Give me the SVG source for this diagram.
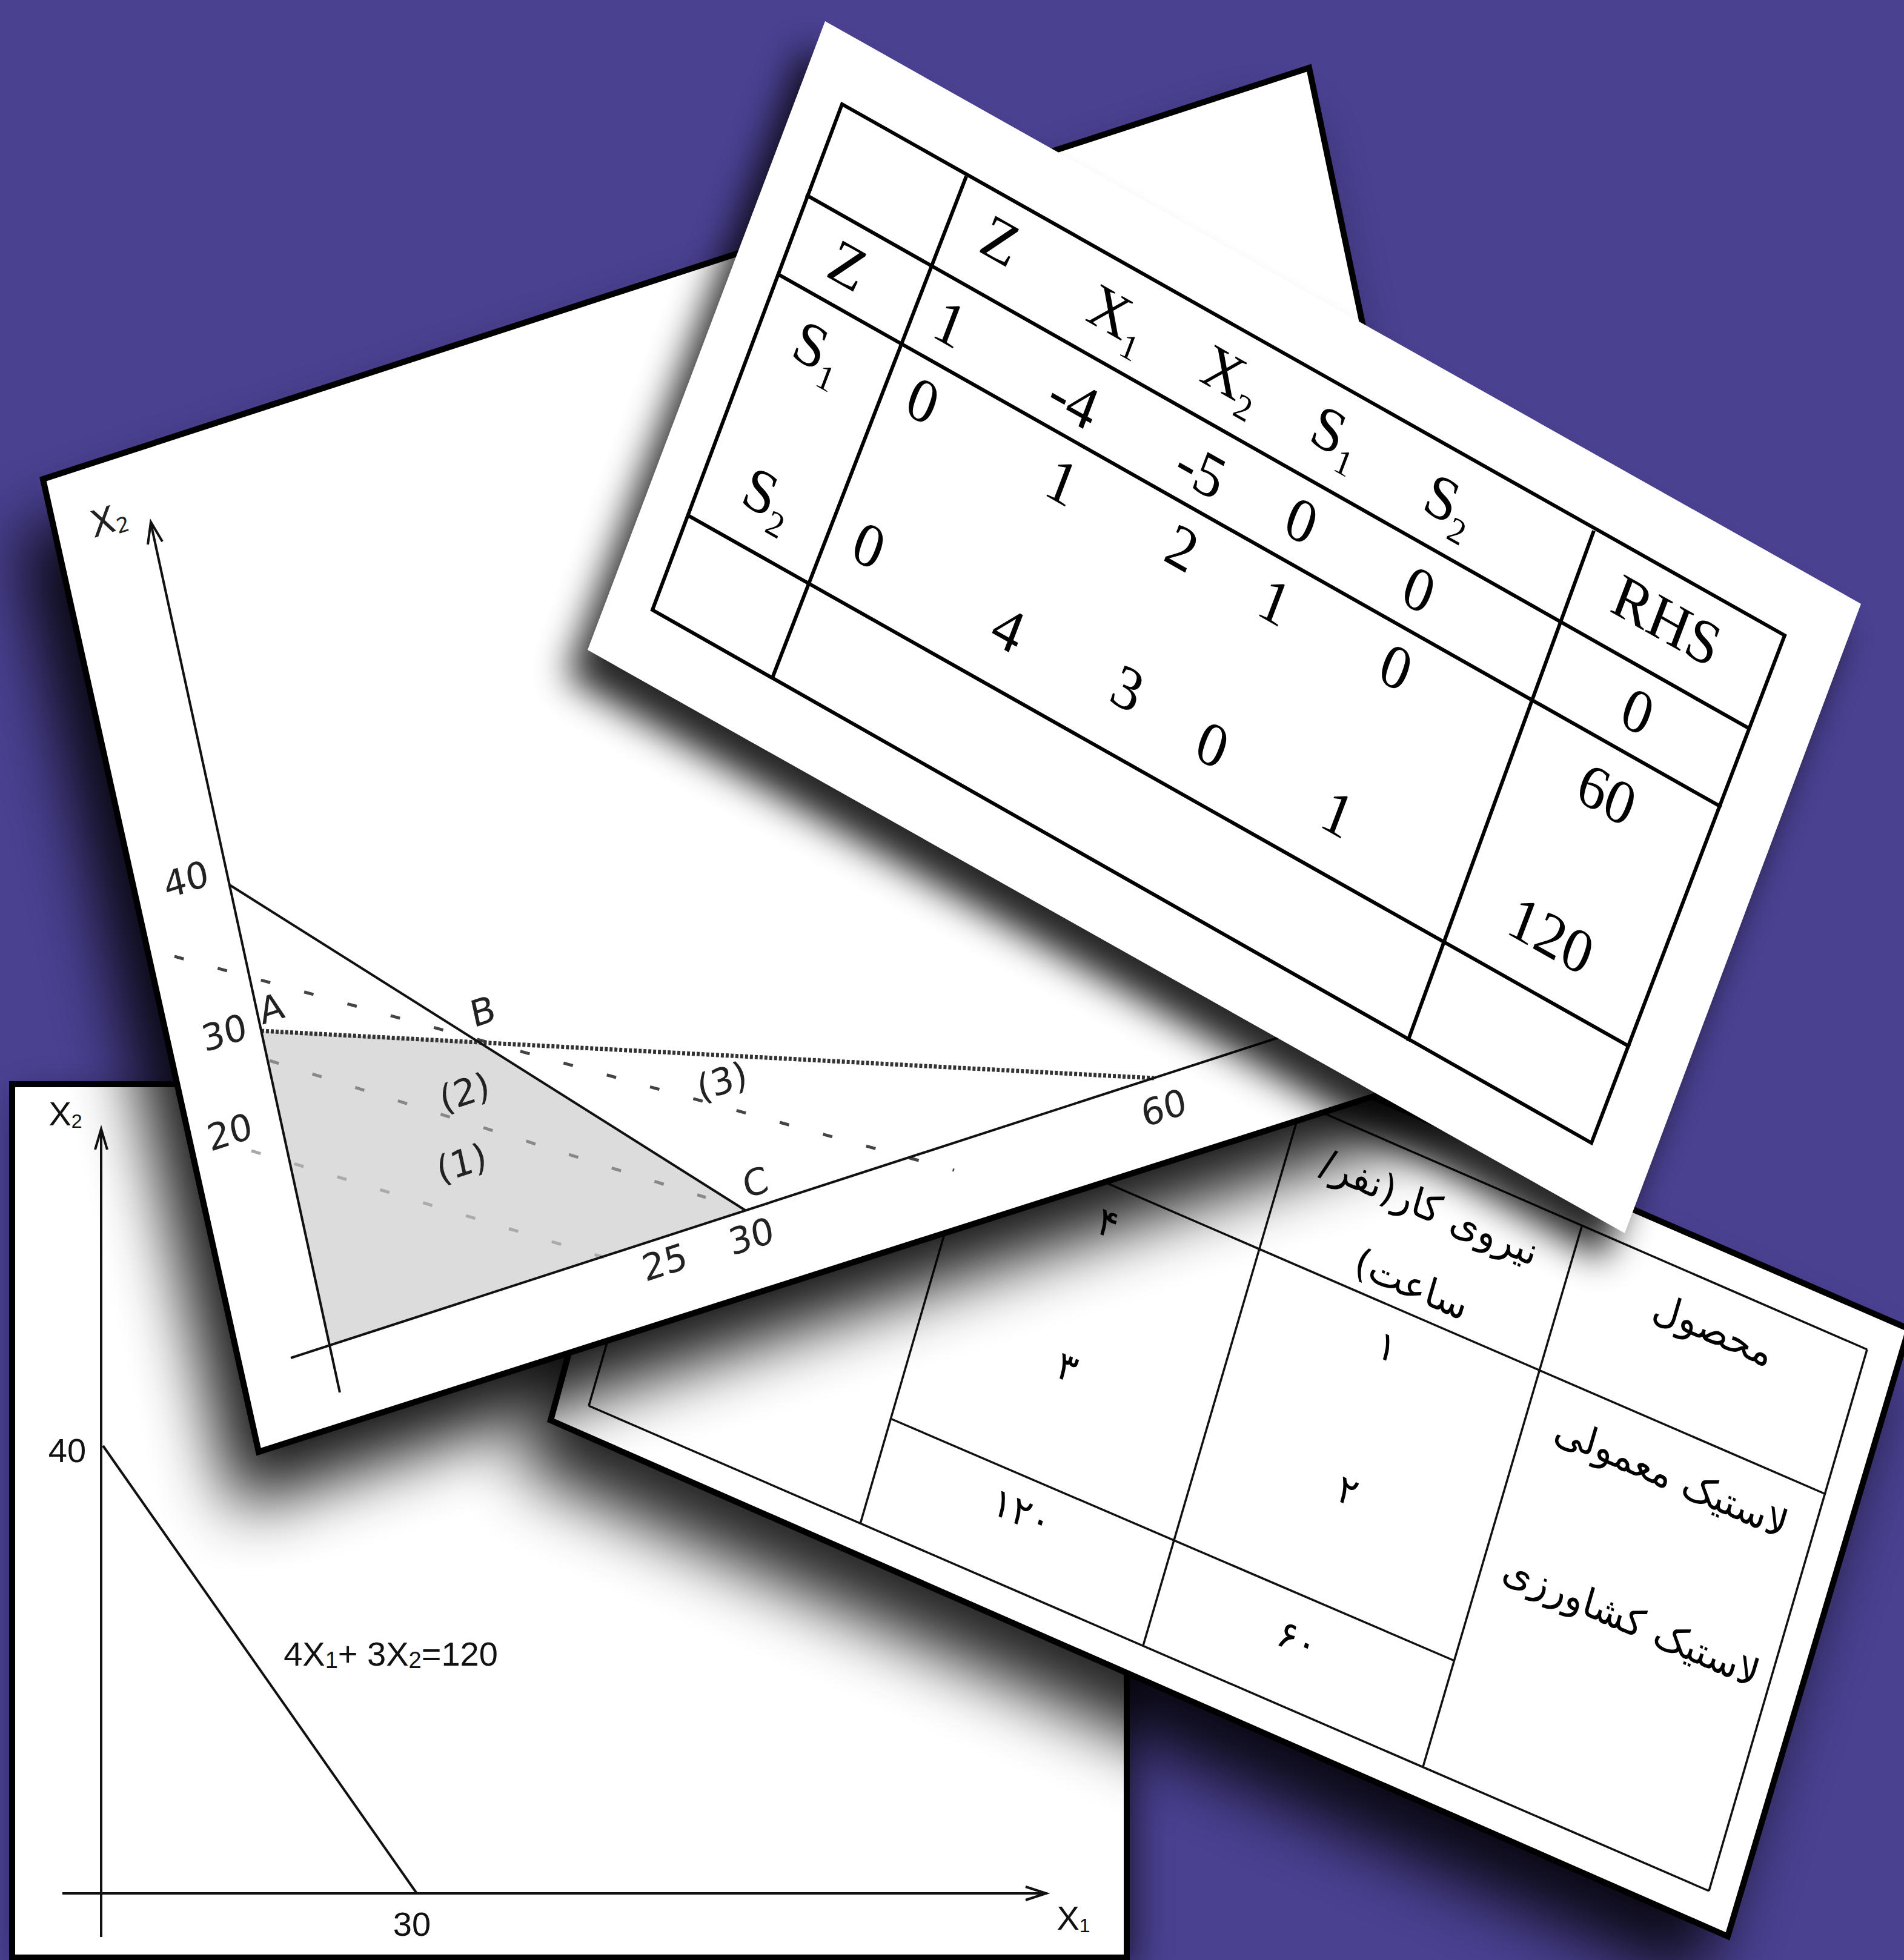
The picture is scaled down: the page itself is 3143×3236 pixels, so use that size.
<svg xmlns="http://www.w3.org/2000/svg" width="3143" height="3236" viewBox="0 0 3143 3236">
<defs>
<filter id="blurL" x="-0.3" y="-0.3" width="1.6" height="1.6"><feGaussianBlur stdDeviation="55"/></filter>
<filter id="blurS" x="-0.3" y="-0.3" width="1.6" height="1.6"><feGaussianBlur stdDeviation="30"/></filter>
<style>
.sheet{fill:#fff;stroke:#000;stroke-width:10;stroke-linejoin:miter}
.paper{fill:#fff}
.tl{stroke:#000;stroke-width:6;fill:none;stroke-linecap:square}
.pl{stroke:#111;stroke-width:3.5;fill:none}
.ml{stroke:#111;stroke-width:4;fill:none}
.st{font-family:'Liberation Serif','Times New Roman',serif;font-size:100px;fill:#000;text-anchor:middle}
.pt{font-family:'DejaVu Sans','Noto Sans',sans-serif;font-size:64px;fill:#000;text-anchor:middle}
.mt{font-family:'DejaVu Sans','Liberation Sans',sans-serif;font-size:60px;fill:#222;text-anchor:middle}
.bt{font-family:'Liberation Sans',Arial,sans-serif;font-size:56px;fill:#111;text-anchor:middle}
</style>
</defs>
<rect x="0" y="0" width="3143" height="3236" fill="#4a4191"/>

<!-- bottom-left sheet -->
<g id="sheet-graph-basic">
<rect x="35" y="1810" width="1840" height="1442" fill="#000" opacity="0.6" filter="url(#blurS)"/>
<rect class="sheet" x="20" y="1790" width="1840" height="1442"/>
<line class="ml" x1="167" y1="1866" x2="167" y2="3198"/>
<polyline class="ml" points="157,1898 167,1864 177,1898"/>
<line class="ml" x1="103" y1="3126" x2="1725" y2="3126"/>
<polyline class="ml" points="1693,3115 1727,3126 1693,3137"/>
<line class="ml" x1="170" y1="2387" x2="688" y2="3126"/>
<text class="bt" x="108" y="1858">X<tspan font-size="32" dy="4">2</tspan></text>
<text class="bt" x="1772" y="3186">X<tspan font-size="32" dy="4">1</tspan></text>
<text class="bt" x="111" y="2414">40</text>
<text class="bt" x="680" y="3196">30</text>
<text class="bt" x="645" y="2750" font-size="64">4X<tspan font-size="38" dy="4">1</tspan><tspan dy="-4">+ 3X</tspan><tspan font-size="38" dy="4">2</tspan><tspan dy="-4">=120</tspan></text>
</g>

<!-- Persian table sheet -->
<g id="sheet-persian-table">
<polygon points="1180,1340 3151,2194 2852,3197 909,2345" transform="translate(-50,80)" fill="#000" opacity="0.85" filter="url(#blurL)"/>
<polygon class="sheet" points="1180,1340 3151,2194 2852,3197 909,2345"/>
<line class="pl" x1="1500" y1="1540" x2="3082" y2="2228"/>
<line class="pl" x1="3082" y1="2228" x2="2821" y2="3122"/>
<line class="pl" x1="972" y1="2321" x2="2821" y2="3122"/>
<line class="pl" x1="1040" y1="2085" x2="972" y2="2321"/>
<line class="pl" x1="1600" y1="1855" x2="3014" y2="2467"/>
<line class="pl" x1="1472" y1="2343" x2="2401" y2="2742"/>
<line class="pl" x1="1580" y1="1965" x2="1420" y2="2516"/>
<line class="pl" x1="2160" y1="1785" x2="1887" y2="2717"/>
<line class="pl" x1="2611" y1="2025" x2="2349" y2="2917"/>
<g direction="rtl">
<text class="pt" transform="matrix(0.918 0.397 -0.279 0.961 2360 1993)" dy="0.35em">نیروی کار(نفر/</text>
<text class="pt" transform="matrix(0.918 0.397 -0.279 0.961 2330 2120)" dy="0.35em">ساعت)</text>
<text class="pt" transform="matrix(0.918 0.397 -0.279 0.961 2828 2195)" dy="0.35em">محصول</text>
<text class="pt" transform="matrix(0.918 0.397 -0.279 0.961 2759 2438)" dy="0.35em">لاستیک معمولی</text>
<text class="pt" transform="matrix(0.918 0.397 -0.279 0.961 2693 2676)" dy="0.35em">لاستیک کشاورزی</text>
<text class="pt" transform="matrix(0.918 0.397 -0.279 0.961 2290 2223)" dy="0.35em">۱</text>
<text class="pt" transform="matrix(0.918 0.397 -0.279 0.961 2225 2461)" dy="0.35em">۲</text>
<text class="pt" transform="matrix(0.918 0.397 -0.279 0.961 2142 2706)" dy="0.35em">۶۰</text>
<text class="pt" transform="matrix(0.918 0.397 -0.279 0.961 1829 2019)" dy="0.35em">۴</text>
<text class="pt" transform="matrix(0.918 0.397 -0.279 0.961 1762 2257)" dy="0.35em">۳</text>
<text class="pt" transform="matrix(0.918 0.397 -0.279 0.961 1687 2496)" dy="0.35em">۱۲۰</text>
</g>
</g>

<!-- middle graph sheet -->
<g id="sheet-feasible-region">
<polygon points="71,791 2161,112 2500,1736 427,2397" transform="translate(-40,95)" fill="#000" opacity="0.9" filter="url(#blurL)"/>
<polygon class="sheet" points="71,791 2161,112 2500,1736 427,2397"/>
<polygon points="431,1702 790,1720 1230,1998 544,2221" fill="#dcdcdc"/>
<line x1="288" y1="1579" x2="1575" y2="1932" stroke="#444" stroke-width="5" stroke-dasharray="16 58"/>
<line x1="445" y1="1751" x2="1165" y2="1977" stroke="#888" stroke-width="5" stroke-dasharray="16 58"/>
<line x1="415" y1="1900" x2="1050" y2="2092" stroke="#aaa" stroke-width="5" stroke-dasharray="16 58"/>
<line x1="431" y1="1702" x2="1905" y2="1780" stroke="#333" stroke-width="7" stroke-dasharray="5 3"/>
<line class="ml" x1="379" y1="1461" x2="1230" y2="1998"/>
<line class="ml" x1="561" y1="2299" x2="249" y2="864"/>
<polyline class="ml" points="244,899 249,862 268,894"/>
<line class="ml" x1="480" y1="2242" x2="2200" y2="1684"/>
<text class="mt" transform="matrix(0.9516 -0.3074 0.212 0.977 180 858)" dy="0.35em">X<tspan font-size="34" dy="6">2</tspan></text>
<text class="mt" transform="matrix(0.9516 -0.3074 0.212 0.977 307 1452)" dy="0.35em">40</text>
<text class="mt" transform="matrix(0.9516 -0.3074 0.212 0.977 370 1705)" dy="0.35em">30</text>
<text class="mt" transform="matrix(0.9516 -0.3074 0.212 0.977 379 1869)" dy="0.35em">20</text>
<text class="mt" transform="matrix(0.9516 -0.3074 0.212 0.977 448 1665)" dy="0.35em">A</text>
<text class="mt" transform="matrix(0.9516 -0.3074 0.212 0.977 797 1670)" dy="0.35em">B</text>
<text class="mt" transform="matrix(0.9516 -0.3074 0.212 0.977 1247 1952)" dy="0.35em">C</text>
<text class="mt" transform="matrix(0.9516 -0.3074 0.212 0.977 1240 2041)" dy="0.35em">30</text>
<text class="mt" transform="matrix(0.9516 -0.3074 0.212 0.977 1097 2084)" dy="0.35em">25</text>
<text class="mt" transform="matrix(0.9516 -0.3074 0.212 0.977 1921 1829)" dy="0.35em">60</text>
<text class="mt" transform="matrix(0.9516 -0.3074 0.212 0.977 762 1920)" dy="0.35em" fill="#aaa" font-size="54">(1)</text>
<text class="mt" transform="matrix(0.9516 -0.3074 0.212 0.977 767 1803)" dy="0.35em" fill="#666" font-size="54">(2)</text>
<text class="mt" transform="matrix(0.9516 -0.3074 0.212 0.977 1192 1785)" dy="0.35em" fill="#333" font-size="54">(3)</text>
</g>

<!-- simplex tableau sheet -->
<g id="sheet-simplex">
<polygon points="1362,35 3072,997 2682,2036 970,1073" transform="translate(-35,45)" fill="#000" opacity="0.85" filter="url(#blurS)"/>
<polygon class="paper" points="1362,35 3072,997 2682,2036 970,1073"/>
<polygon class="tl" points="1390,172 2946,1049 2627,1887 1077,1007"/>
<line class="tl" x1="1594" y1="294" x2="1275" y2="1119"/>
<line class="tl" x1="2630" y1="879" x2="2325" y2="1716"/>
<line class="tl" x1="1333" y1="323" x2="2886" y2="1202"/>
<line class="tl" x1="1285" y1="453" x2="2839" y2="1331"/>
<line class="tl" x1="1136" y1="851" x2="2688" y2="1727"/>
<g>
<text class="st" transform="matrix(0.870 0.492 -0.355 0.935 1652 396)" dy="0.35em">Z</text>
<text class="st" transform="matrix(0.870 0.492 -0.355 0.935 1846 520)" dy="0.35em">X<tspan font-size="58" dy="22">1</tspan></text>
<text class="st" transform="matrix(0.870 0.492 -0.355 0.935 2034 620)" dy="0.35em">X<tspan font-size="58" dy="22">2</tspan></text>
<text class="st" transform="matrix(0.870 0.492 -0.355 0.935 2207 715)" dy="0.35em">S<tspan font-size="58" dy="22">1</tspan></text>
<text class="st" transform="matrix(0.870 0.492 -0.355 0.935 2394 828)" dy="0.35em">S<tspan font-size="58" dy="22">2</tspan></text>
<text class="st" transform="matrix(0.870 0.492 -0.355 0.935 2752 1023)" dy="0.35em">RHS</text>
<text class="st" transform="matrix(0.870 0.492 -0.355 0.935 1400 437)" dy="0.35em">Z</text>
<text class="st" transform="matrix(0.870 0.492 -0.355 0.935 1352 575)" dy="0.35em">S<tspan font-size="58" dy="22">1</tspan></text>
<text class="st" transform="matrix(0.870 0.492 -0.355 0.935 1269 817)" dy="0.35em">S<tspan font-size="58" dy="22">2</tspan></text>
<text class="st" transform="matrix(0.870 0.492 -0.355 0.935 1569 533)" dy="0.35em">1</text>
<text class="st" transform="matrix(0.870 0.492 -0.355 0.935 1773 660)" dy="0.35em">-4</text>
<text class="st" transform="matrix(0.870 0.492 -0.355 0.935 1983 775)" dy="0.35em">-5</text>
<text class="st" transform="matrix(0.870 0.492 -0.355 0.935 2149 858)" dy="0.35em">0</text>
<text class="st" transform="matrix(0.870 0.492 -0.355 0.935 2343 972)" dy="0.35em">0</text>
<text class="st" transform="matrix(0.870 0.492 -0.355 0.935 2704 1173)" dy="0.35em">0</text>
<text class="st" transform="matrix(0.870 0.492 -0.355 0.935 1524 660)" dy="0.35em">0</text>
<text class="st" transform="matrix(0.870 0.492 -0.355 0.935 1754 794)" dy="0.35em">1</text>
<text class="st" transform="matrix(0.870 0.492 -0.355 0.935 1952 903)" dy="0.35em">2</text>
<text class="st" transform="matrix(0.870 0.492 -0.355 0.935 2105 992)" dy="0.35em">1</text>
<text class="st" transform="matrix(0.870 0.492 -0.355 0.935 2305 1100)" dy="0.35em">0</text>
<text class="st" transform="matrix(0.870 0.492 -0.355 0.935 2653 1310)" dy="0.35em">60</text>
<text class="st" transform="matrix(0.870 0.492 -0.355 0.935 1435 899)" dy="0.35em">0</text>
<text class="st" transform="matrix(0.870 0.492 -0.355 0.935 1665 1037)" dy="0.35em">4</text>
<text class="st" transform="matrix(0.870 0.492 -0.355 0.935 1862 1135)" dy="0.35em">3</text>
<text class="st" transform="matrix(0.870 0.492 -0.355 0.935 2002 1228)" dy="0.35em">0</text>
<text class="st" transform="matrix(0.870 0.492 -0.355 0.935 2209 1342)" dy="0.35em">1</text>
<text class="st" transform="matrix(0.870 0.492 -0.355 0.935 2561 1543)" dy="0.35em">120</text>
</g>
</g>
</svg>
